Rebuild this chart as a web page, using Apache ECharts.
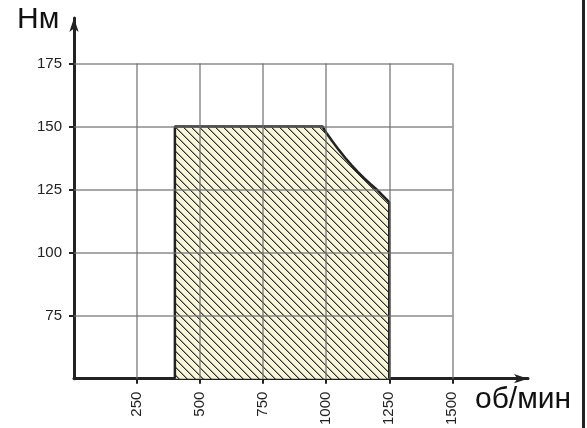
<!DOCTYPE html>
<html>
<head>
<meta charset="utf-8">
<script src="https://cdn.jsdelivr.net/npm/echarts@6/dist/echarts.min.js"></script>
<style>html,body{margin:0;padding:0;background:#fff}#c{width:587px;height:428px}</style>
</head>
<body>
<div id="c"></div>
<script>
// Data
const xTicks = [250, 500, 750, 1000, 1250, 1500];
const yTicks = [75, 100, 125, 150, 175];
const envelopeRpm    = [400, 400, 985, 1000, 1025, 1050, 1075, 1100, 1125, 1150, 1175, 1200, 1225, 1250, 1250];
const envelopeTorque = [50, 150, 150, 147.5, 144, 140.7, 137.6, 134.7, 132, 129.5, 127.2, 125, 122.5, 120, 50];
const gridXRange = [0, 1500];
const gridYRange = [50, 175];

// hatch pattern
const P = 8;
const pat = document.createElement('canvas');
pat.width = P; pat.height = P;
const g = pat.getContext('2d');
g.fillStyle = '#f8f6d8';
g.fillRect(0, 0, P, P);
for (let i = 0; i < P; i++) {
  g.fillStyle = '#9a9a90';
  g.fillRect((i + 1) % P, i, 1, 1);
  g.fillStyle = '#333333';
  g.fillRect(i, i, 1, 1);
}

const gridLines = [];
yTicks.forEach(v => gridLines.push([{coord: [gridXRange[0], v]}, {coord: [gridXRange[1], v]}]));
xTicks.forEach(v => gridLines.push([{coord: [v, gridYRange[0]]}, {coord: [v, gridYRange[1]]}]));

const chart = echarts.init(document.getElementById('c'));
const FF = '"Liberation Sans", Arial, sans-serif';
const axisFont = {fontFamily: FF, fontSize: 15, color: '#222'};
chart.setOption({
  animation: false,
  backgroundColor: '#fff',
  grid: {left: 74, right: 59, top: 18, bottom: 49, containLabel: false},
  xAxis: {
    type: 'value', min: 0, max: 1800,
    axisLine: {show: true, symbol: ['none', 'arrow'], symbolSize: [7, 14], lineStyle: {color: '#222', width: 3}},
    axisTick: {show: true, customValues: xTicks, length: 5, lineStyle: {color: '#222', width: 2}},
    axisLabel: Object.assign({customValues: xTicks, rotate: 90, margin: 13, formatter: v => String(v)}, axisFont),
    splitLine: {show: false}
  },
  yAxis: {
    type: 'value', min: 50, max: 193,
    axisLine: {show: true, symbol: ['none', 'arrow'], symbolSize: [7, 14], lineStyle: {color: '#222', width: 3}},
    axisTick: {show: true, customValues: yTicks, length: 5, lineStyle: {color: '#222', width: 2}},
    axisLabel: Object.assign({customValues: yTicks, margin: 12, formatter: v => String(v)}, axisFont),
    splitLine: {show: false}
  },
  graphic: [
    {type: 'text', left: 17, top: 5, style: {text: 'Нм', fontFamily: FF, fontSize: 30, fill: '#111'}},
    {type: 'text', left: 475, top: 385, style: {text: 'об/мин', fontFamily: FF, fontSize: 30, fill: '#111'}},
    {type: 'rect', right: 2, top: 0, shape: {width: 3, height: 428}, style: {fill: '#222'}}
  ],
  series: [
    {
      type: 'line', z: 2, silent: true, symbol: 'none',
      data: envelopeRpm.map((x, i) => [x, envelopeTorque[i]]),
      lineStyle: {color: '#222', width: 2.5},
      areaStyle: {color: {image: pat, repeat: 'repeat'}, opacity: 1}
    },
    {
      type: 'line', z: 3, silent: true, data: [],
      markLine: {
        silent: true, symbol: ['none', 'none'], label: {show: false},
        lineStyle: {color: 'rgba(110,110,110,0.8)', width: 1.5, type: 'solid'},
        data: gridLines
      }
    }
  ]
});
</script>
</body>
</html>
